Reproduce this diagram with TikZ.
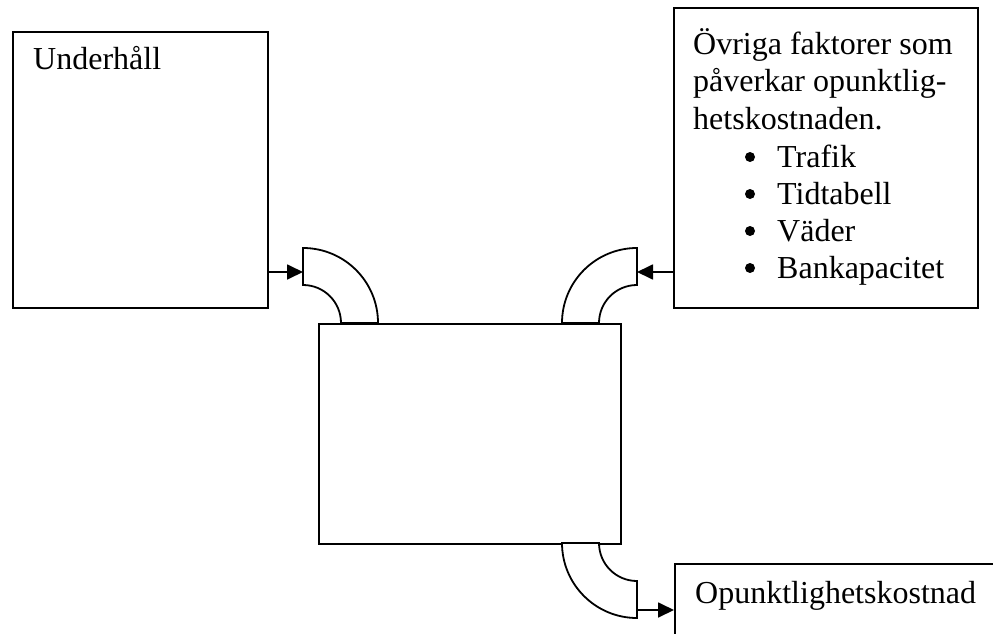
\documentclass[tikz,border=0pt]{standalone}
\usepackage{fontspec}
\setmainfont{Liberation Serif}
\usetikzlibrary{arrows.meta}
\begin{document}
\begin{tikzpicture}[x=1pt,y=-1pt,
  box/.style={draw, line width=1.8pt, inner sep=0pt, anchor=north west},
  lbl/.style={anchor=base west, inner sep=0pt, font=\fontsize{32}{37}\selectfont},
  dot/.style={circle, fill, inner sep=0pt, minimum size=10pt},
  elbow/.style={draw, line width=1.8pt, fill=white, line join=miter},
  feed/.style={line width=1.8pt, -{Triangle[length=16pt,width=15pt]}}]
\useasboundingbox (0,0) rectangle (993,634);
\clip (0,0) rectangle (993,634);

% boxes
\node[box, minimum width=255pt, minimum height=276pt] (maint) at (12,31) {};
\node[box, minimum width=302pt, minimum height=220pt] (core) at (318,323) {};
\node[box, minimum width=304pt, minimum height=300pt] (other) at (673,7) {};
\node[box, minimum width=340pt, minimum height=120pt] (cost) at (674,563) {};

% box texts
\node[lbl] (tmaint) at (33,70) {Underhåll};
\node[lbl] (tcost) at (695,603) {Opunktlighetskostnad};
\node[lbl] (to1) at (693,55) {Övriga faktorer som};
\node[lbl] (to2) at (693,92) {påverkar opunktlig-};
\node[lbl] (to3) at (693,129) {hetskostnaden.};
\node[lbl] (tb1) at (777,167) {Trafik};
\node[lbl] (tb2) at (777,204) {Tidtabell};
\node[lbl] (tb3) at (777,241) {Väder};
\node[lbl] (tb4) at (777,278) {Bankapacitet};

% list bullets
\foreach \y [count=\i] in {157,194,231,268}
  \node[dot] (bul\i) at (750,\y) {};

% curved inlet/outlet pipes
\draw[elbow] (303,248) arc[start angle=90, end angle=0, radius=75pt]
  -- ++(-37,0) arc[start angle=0, end angle=90, radius=38pt] -- cycle;
\draw[elbow] (637,248) arc[start angle=90, end angle=180, radius=75pt]
  -- ++(37,0) arc[start angle=180, end angle=90, radius=38pt] -- cycle;
\draw[elbow] (562,543) arc[start angle=180, end angle=270, radius=75pt]
  -- ++(0,-37) arc[start angle=270, end angle=180, radius=38pt] -- cycle;

% pipe mouths
\coordinate (e1) at (303,272);
\coordinate (e2) at (637,272);
\coordinate (e3) at (637,610);

% connectors
\draw[feed] (maint.east |- e1) -- (e1);
\draw[feed] (other.west |- e2) -- (e2);
\draw[feed] (e3) -- (cost.west |- e3);
\end{tikzpicture}
\end{document}
